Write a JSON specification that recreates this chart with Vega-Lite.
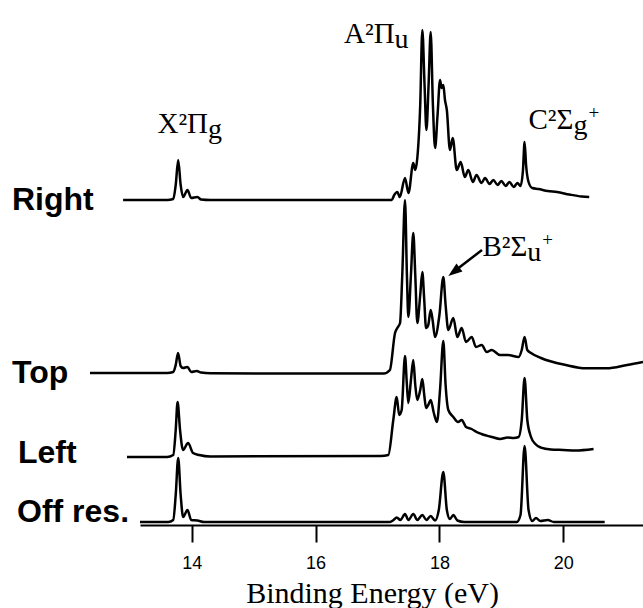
{
  "$schema": "https://vega.github.io/schema/vega-lite/v6.json",
  "width": 503,
  "height": 525,
  "autosize": {"type": "none"},
  "padding": {"left": 140, "top": 0, "right": 0, "bottom": 83},
  "background": "white",
  "config": {"view": {"stroke": null}},
  "datasets": {
    "spectra": [
      {"s":"Right","e":12.89,"v":325},{"s":"Right","e":13.60,"v":325},{"s":"Right","e":13.70,"v":326},{"s":"Right","e":13.74,"v":340},{"s":"Right","e":13.78,"v":365},{"s":"Right","e":13.82,"v":340},{"s":"Right","e":13.86,"v":328},{"s":"Right","e":13.93,"v":335},{"s":"Right","e":13.99,"v":327},{"s":"Right","e":14.09,"v":328},{"s":"Right","e":14.15,"v":325.5},{"s":"Right","e":14.30,"v":325},{"s":"Right","e":15.50,"v":325},{"s":"Right","e":17.23,"v":325},{"s":"Right","e":17.27,"v":330},{"s":"Right","e":17.32,"v":333},{"s":"Right","e":17.36,"v":328},{"s":"Right","e":17.444,"v":347},{"s":"Right","e":17.50,"v":332},{"s":"Right","e":17.578,"v":362},{"s":"Right","e":17.61,"v":355},{"s":"Right","e":17.643,"v":367},{"s":"Right","e":17.69,"v":420},{"s":"Right","e":17.724,"v":495},{"s":"Right","e":17.76,"v":440},{"s":"Right","e":17.79,"v":395},{"s":"Right","e":17.825,"v":440},{"s":"Right","e":17.859,"v":493},{"s":"Right","e":17.895,"v":420},{"s":"Right","e":17.93,"v":377},{"s":"Right","e":17.97,"v":410},{"s":"Right","e":18.01,"v":445},{"s":"Right","e":18.035,"v":437},{"s":"Right","e":18.063,"v":440},{"s":"Right","e":18.09,"v":425},{"s":"Right","e":18.12,"v":415},{"s":"Right","e":18.17,"v":375},{"s":"Right","e":18.215,"v":387},{"s":"Right","e":18.28,"v":355},{"s":"Right","e":18.344,"v":363},{"s":"Right","e":18.41,"v":348},{"s":"Right","e":18.467,"v":355},{"s":"Right","e":18.54,"v":343},{"s":"Right","e":18.60,"v":350},{"s":"Right","e":18.68,"v":342},{"s":"Right","e":18.737,"v":347},{"s":"Right","e":18.81,"v":341},{"s":"Right","e":18.871,"v":345},{"s":"Right","e":18.94,"v":340},{"s":"Right","e":19.00,"v":344},{"s":"Right","e":19.07,"v":339},{"s":"Right","e":19.13,"v":343},{"s":"Right","e":19.20,"v":338},{"s":"Right","e":19.26,"v":342},{"s":"Right","e":19.31,"v":339},{"s":"Right","e":19.35,"v":355},{"s":"Right","e":19.376,"v":383},{"s":"Right","e":19.40,"v":360},{"s":"Right","e":19.44,"v":343},{"s":"Right","e":19.50,"v":337},{"s":"Right","e":19.60,"v":336},{"s":"Right","e":19.75,"v":334},{"s":"Right","e":19.90,"v":333},{"s":"Right","e":20.10,"v":330.5},{"s":"Right","e":20.30,"v":328.5},{"s":"Right","e":20.42,"v":328},

      {"s":"Top","e":12.355,"v":152},{"s":"Top","e":13.60,"v":152},{"s":"Top","e":13.70,"v":153},{"s":"Top","e":13.74,"v":160},{"s":"Top","e":13.778,"v":172},{"s":"Top","e":13.82,"v":159},{"s":"Top","e":13.858,"v":157},{"s":"Top","e":13.93,"v":158},{"s":"Top","e":13.99,"v":153},{"s":"Top","e":14.08,"v":154},{"s":"Top","e":14.15,"v":152.5},{"s":"Top","e":14.30,"v":151.7},{"s":"Top","e":16.00,"v":151.5},{"s":"Top","e":17.10,"v":151.5},{"s":"Top","e":17.20,"v":155},{"s":"Top","e":17.283,"v":192},{"s":"Top","e":17.32,"v":197},{"s":"Top","e":17.364,"v":202},{"s":"Top","e":17.40,"v":250},{"s":"Top","e":17.444,"v":325},{"s":"Top","e":17.475,"v":250},{"s":"Top","e":17.498,"v":208},{"s":"Top","e":17.54,"v":250},{"s":"Top","e":17.578,"v":292},{"s":"Top","e":17.61,"v":250},{"s":"Top","e":17.643,"v":202},{"s":"Top","e":17.69,"v":230},{"s":"Top","e":17.724,"v":253},{"s":"Top","e":17.755,"v":225},{"s":"Top","e":17.784,"v":197},{"s":"Top","e":17.82,"v":200},{"s":"Top","e":17.859,"v":215},{"s":"Top","e":17.89,"v":205},{"s":"Top","e":17.929,"v":188},{"s":"Top","e":18.00,"v":210},{"s":"Top","e":18.063,"v":248},{"s":"Top","e":18.10,"v":220},{"s":"Top","e":18.144,"v":195},{"s":"Top","e":18.225,"v":207},{"s":"Top","e":18.289,"v":188},{"s":"Top","e":18.36,"v":197},{"s":"Top","e":18.43,"v":183},{"s":"Top","e":18.522,"v":188},{"s":"Top","e":18.591,"v":178},{"s":"Top","e":18.683,"v":180},{"s":"Top","e":18.764,"v":173},{"s":"Top","e":18.845,"v":175},{"s":"Top","e":18.979,"v":170},{"s":"Top","e":19.108,"v":170},{"s":"Top","e":19.28,"v":168},{"s":"Top","e":19.33,"v":175},{"s":"Top","e":19.376,"v":188},{"s":"Top","e":19.42,"v":175},{"s":"Top","e":19.48,"v":172},{"s":"Top","e":19.641,"v":167},{"s":"Top","e":20.039,"v":160},{"s":"Top","e":20.368,"v":156.7},{"s":"Top","e":20.701,"v":156.7},{"s":"Top","e":21.031,"v":160},{"s":"Top","e":21.289,"v":163},

      {"s":"Left","e":12.953,"v":68},{"s":"Left","e":13.60,"v":68},{"s":"Left","e":13.70,"v":70},{"s":"Left","e":13.74,"v":95},{"s":"Left","e":13.77,"v":123},{"s":"Left","e":13.81,"v":95},{"s":"Left","e":13.858,"v":75},{"s":"Left","e":13.94,"v":82},{"s":"Left","e":14.02,"v":72},{"s":"Left","e":14.12,"v":70},{"s":"Left","e":14.30,"v":68.5},{"s":"Left","e":17.05,"v":69},{"s":"Left","e":17.175,"v":70},{"s":"Left","e":17.255,"v":105},{"s":"Left","e":17.31,"v":128},{"s":"Left","e":17.35,"v":110},{"s":"Left","e":17.39,"v":115},{"s":"Left","e":17.444,"v":169},{"s":"Left","e":17.475,"v":140},{"s":"Left","e":17.498,"v":122},{"s":"Left","e":17.54,"v":145},{"s":"Left","e":17.578,"v":165},{"s":"Left","e":17.61,"v":140},{"s":"Left","e":17.643,"v":125},{"s":"Left","e":17.69,"v":135},{"s":"Left","e":17.724,"v":146},{"s":"Left","e":17.755,"v":130},{"s":"Left","e":17.784,"v":117},{"s":"Left","e":17.82,"v":120},{"s":"Left","e":17.859,"v":125},{"s":"Left","e":17.91,"v":112},{"s":"Left","e":17.96,"v":103},{"s":"Left","e":18.01,"v":135},{"s":"Left","e":18.063,"v":184},{"s":"Left","e":18.10,"v":140},{"s":"Left","e":18.144,"v":115},{"s":"Left","e":18.225,"v":108},{"s":"Left","e":18.30,"v":103},{"s":"Left","e":18.36,"v":105},{"s":"Left","e":18.43,"v":98},{"s":"Left","e":18.52,"v":96},{"s":"Left","e":18.60,"v":93},{"s":"Left","e":18.68,"v":91},{"s":"Left","e":18.764,"v":89.4},{"s":"Left","e":18.85,"v":88},{"s":"Left","e":18.98,"v":86},{"s":"Left","e":19.10,"v":87.5},{"s":"Left","e":19.20,"v":87},{"s":"Left","e":19.28,"v":88},{"s":"Left","e":19.33,"v":105},{"s":"Left","e":19.376,"v":147},{"s":"Left","e":19.42,"v":105},{"s":"Left","e":19.48,"v":88},{"s":"Left","e":19.55,"v":81},{"s":"Left","e":19.641,"v":77.4},{"s":"Left","e":19.80,"v":75.5},{"s":"Left","e":20.00,"v":75},{"s":"Left","e":20.20,"v":74.5},{"s":"Left","e":20.49,"v":76},

      {"s":"Off res.","e":13.163,"v":3},{"s":"Off res.","e":13.62,"v":3},{"s":"Off res.","e":13.70,"v":5},{"s":"Off res.","e":13.74,"v":30},{"s":"Off res.","e":13.78,"v":67},{"s":"Off res.","e":13.82,"v":30},{"s":"Off res.","e":13.86,"v":8},{"s":"Off res.","e":13.93,"v":15},{"s":"Off res.","e":13.99,"v":5},{"s":"Off res.","e":14.09,"v":4.5},{"s":"Off res.","e":14.20,"v":3},{"s":"Off res.","e":17.20,"v":3},{"s":"Off res.","e":17.26,"v":5},{"s":"Off res.","e":17.31,"v":7.5},{"s":"Off res.","e":17.37,"v":5},{"s":"Off res.","e":17.444,"v":11},{"s":"Off res.","e":17.50,"v":5},{"s":"Off res.","e":17.578,"v":11},{"s":"Off res.","e":17.643,"v":5},{"s":"Off res.","e":17.724,"v":10},{"s":"Off res.","e":17.79,"v":5},{"s":"Off res.","e":17.859,"v":9},{"s":"Off res.","e":17.93,"v":4.5},{"s":"Off res.","e":17.99,"v":15},{"s":"Off res.","e":18.063,"v":53},{"s":"Off res.","e":18.12,"v":15},{"s":"Off res.","e":18.17,"v":6},{"s":"Off res.","e":18.225,"v":10},{"s":"Off res.","e":18.29,"v":4.5},{"s":"Off res.","e":18.40,"v":3},{"s":"Off res.","e":19.25,"v":3},{"s":"Off res.","e":19.31,"v":10},{"s":"Off res.","e":19.376,"v":79},{"s":"Off res.","e":19.44,"v":15},{"s":"Off res.","e":19.50,"v":4},{"s":"Off res.","e":19.56,"v":7},{"s":"Off res.","e":19.63,"v":4},{"s":"Off res.","e":19.75,"v":5},{"s":"Off res.","e":19.85,"v":3},{"s":"Off res.","e":20.67,"v":3}
    ],
    "names": [
      {"name":"Right","e":11.095,"v":315},
      {"name":"Top","e":11.095,"v":142},
      {"name":"Left","e":11.192,"v":62},
      {"name":"Off res.","e":11.176,"v":3}
    ],
    "states": [
      {"main":"X²Π","sub":"g","sup":"","e":14.262,"v":392},
      {"main":"A²Π","sub":"u","sup":"","e":17.276,"v":482},
      {"main":"B²Σ","sub":"u","sup":"+","e":19.42,"v":269},
      {"main":"C²Σ","sub":"g","sup":"+","e":20.165,"v":396}
    ],
    "arrow": [
      {"e":18.688,"v":275,"e2":18.204,"v2":252}
    ],
    "tip": [
      {"e":18.144,"v":249}
    ]
  },
  "layer": [
    {
      "data": {"name": "spectra"},
      "mark": {"type": "line", "color": "black", "strokeWidth": 2.5, "interpolate": "monotone", "clip": false},
      "encoding": {
        "x": {"field": "e", "type": "quantitative", "scale": {"domain": [13.163, 21.289], "nice": false, "zero": false},
          "axis": {"values": [14, 16, 18, 20], "format": "d", "grid": false, "tickSize": 17, "tickWidth": 2, "tickColor": "black", "domainWidth": 2, "domainColor": "black",
            "labelFont": "Liberation Sans", "labelFontSize": 18, "labelColor": "black", "labelPadding": 12,
            "title": "Binding Energy (eV)", "titleFont": "Liberation Serif", "titleFontSize": 30, "titleFontWeight": "normal", "titleColor": "black",
            "titleX": 232, "titleY": 77, "titleAlign": "center", "titleBaseline": "alphabetic"}},
        "y": {"field": "v", "type": "quantitative", "scale": {"domain": [0, 525], "nice": false, "zero": false}, "axis": null},
        "detail": {"field": "s"}
      }
    },
    {
      "data": {"name": "names"},
      "mark": {"type": "text", "font": "Liberation Sans", "fontWeight": "bold", "fontSize": 32, "align": "left", "baseline": "alphabetic", "color": "black", "clip": false},
      "encoding": {
        "x": {"field": "e", "type": "quantitative"},
        "y": {"field": "v", "type": "quantitative"},
        "text": {"field": "name"}
      }
    },
    {
      "data": {"name": "states"},
      "mark": {"type": "text", "font": "Liberation Serif", "fontSize": 29, "align": "right", "baseline": "alphabetic", "color": "black"},
      "encoding": {
        "x": {"field": "e", "type": "quantitative"},
        "y": {"field": "v", "type": "quantitative"},
        "text": {"field": "main"}
      }
    },
    {
      "data": {"name": "states"},
      "mark": {"type": "text", "font": "Liberation Serif", "fontSize": 28, "align": "left", "baseline": "alphabetic", "dy": 5, "color": "black"},
      "encoding": {
        "x": {"field": "e", "type": "quantitative"},
        "y": {"field": "v", "type": "quantitative"},
        "text": {"field": "sub"}
      }
    },
    {
      "data": {"name": "states"},
      "mark": {"type": "text", "font": "Liberation Serif", "fontSize": 19, "align": "left", "baseline": "alphabetic", "dx": 15, "dy": -10, "color": "black"},
      "encoding": {
        "x": {"field": "e", "type": "quantitative"},
        "y": {"field": "v", "type": "quantitative"},
        "text": {"field": "sup"}
      }
    },
    {
      "data": {"name": "arrow"},
      "mark": {"type": "rule", "color": "black", "strokeWidth": 2.5},
      "encoding": {
        "x": {"field": "e", "type": "quantitative"},
        "y": {"field": "v", "type": "quantitative"},
        "x2": {"field": "e2"},
        "y2": {"field": "v2"}
      }
    },
    {
      "data": {"name": "tip"},
      "mark": {"type": "point", "shape": "M0,0L-0.35,1L0.35,1Z", "size": 784, "angle": 232.6, "filled": true, "color": "black", "opacity": 1, "strokeWidth": 0},
      "encoding": {
        "x": {"field": "e", "type": "quantitative"},
        "y": {"field": "v", "type": "quantitative"}
      }
    }
  ]
}
